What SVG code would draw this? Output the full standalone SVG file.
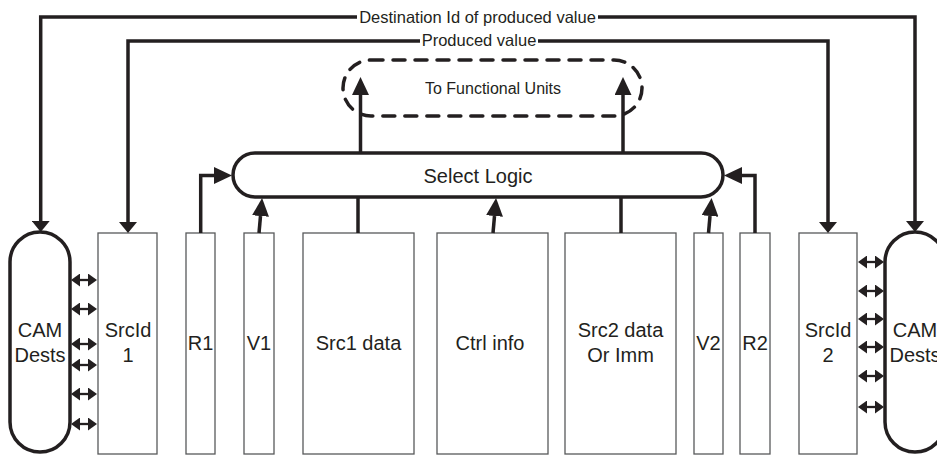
<svg xmlns="http://www.w3.org/2000/svg" width="937" height="455" viewBox="0 0 937 455">
<style>
text{font-family:"Liberation Sans",Arial,sans-serif;fill:#231f20;text-anchor:middle}
.big{font-size:20px}
.mid{font-size:16.5px}
.cell{fill:#fff;stroke:#58595b;stroke-width:1.3}
.cam{fill:#fff;stroke:#231f20;stroke-width:3.5}
.w{fill:none;stroke:#231f20;stroke-width:3.5}
.thin{fill:none;stroke:#231f20;stroke-width:2.3}
</style>
<defs>
<marker id="ah" viewBox="0 0 18 17" refX="0" refY="8.5" markerWidth="18" markerHeight="17" markerUnits="userSpaceOnUse" orient="auto"><path d="M0,0 L18,8.5 L0,17 z" fill="#231f20"/></marker>
<marker id="ahs" viewBox="0 0 11 18" refX="0" refY="9" markerWidth="11" markerHeight="18" markerUnits="userSpaceOnUse" orient="auto"><path d="M0,0 L11,9 L0,18 z" fill="#231f20"/></marker>
<marker id="dh" viewBox="0 0 9 13" refX="0" refY="6.5" markerWidth="9" markerHeight="13" markerUnits="userSpaceOnUse" orient="auto-start-reverse"><path d="M0,0 L9,6.5 L0,13 z" fill="#231f20"/></marker>
</defs>
<g id="fu"><rect x="343" y="60" width="299" height="56" rx="28" fill="none" stroke="#231f20" stroke-width="3.5" stroke-dasharray="12 10" stroke-linecap="round"/><text x="493" y="94" style="font-size:16px">To Functional Units</text></g>
<g id="select"><rect x="233" y="153" width="490" height="44" rx="22" class="cam"/><text class="big" x="478" y="183">Select Logic</text></g>
<g id="cam1"><rect x="10" y="232" width="60" height="220" rx="30" class="cam"/><text class="big" x="40" y="337">CAM</text><text class="big" x="40" y="362">Dests</text></g>
<g id="srcid1"><rect class="cell" x="98" y="233" width="59" height="221"/><text class="big" x="128" y="337">SrcId</text><text class="big" x="128" y="362">1</text></g>
<g id="r1"><rect class="cell" x="186" y="233" width="29" height="221"/><text class="big" x="200.5" y="350">R1</text></g>
<g id="v1"><rect class="cell" x="244" y="233" width="30" height="221"/><text class="big" x="259" y="350">V1</text></g>
<g id="src1"><rect class="cell" x="303" y="233" width="111" height="221"/><text class="big" x="358.5" y="350">Src1 data</text></g>
<g id="ctrl"><rect class="cell" x="437" y="233" width="111" height="221"/><text class="big" x="490" y="350">Ctrl info</text></g>
<g id="src2"><rect class="cell" x="565" y="233" width="111" height="221"/><text class="big" x="620.5" y="337">Src2 data</text><text class="big" x="620.5" y="362">Or Imm</text></g>
<g id="v2"><rect class="cell" x="694" y="233" width="29" height="221"/><text class="big" x="708.5" y="350">V2</text></g>
<g id="r2"><rect class="cell" x="740" y="233" width="30" height="221"/><text class="big" x="755" y="350">R2</text></g>
<g id="srcid2"><rect class="cell" x="799" y="233" width="58" height="221"/><text class="big" x="828" y="337">SrcId</text><text class="big" x="828" y="362">2</text></g>
<g id="cam2"><rect x="885" y="232" width="60" height="220" rx="30" class="cam"/><text class="big" x="915" y="337">CAM</text><text class="big" x="915" y="362">Dests</text></g>
<g id="connectors">
<path class="w" d="M357,17 H40.7 V221" marker-end="url(#ahs)"/>
<path class="w" d="M598,17 H915 V221" marker-end="url(#ahs)"/>
<text class="mid" x="477.5" y="23">Destination Id of produced value</text>
<path class="w" d="M420,41 H128 V222" marker-end="url(#ahs)"/>
<path class="w" d="M538,41 H828 V222" marker-end="url(#ahs)"/>
<text class="mid" x="479" y="46">Produced value</text>
<path class="w" d="M360.5,153 V95" marker-end="url(#ah)"/>
<path class="w" d="M623,153 V95" marker-end="url(#ah)"/>
<path class="w" d="M200.7,233 V175.5 H214" marker-end="url(#ah)"/>
<path class="w" d="M259,233 L260.5,216" marker-end="url(#ah)"/>
<path class="w" d="M358,197 V233"/>
<path class="w" d="M493,233 L494.5,216" marker-end="url(#ah)"/>
<path class="w" d="M621,197 V233"/>
<path class="w" d="M708.5,233 L710,216" marker-end="url(#ah)"/>
<path class="w" d="M755,233 V175.5 H742" marker-end="url(#ah)"/>
<g class="thin">
<path d="M80,280 H88" marker-start="url(#dh)" marker-end="url(#dh)"/>
<path d="M80,309 H88" marker-start="url(#dh)" marker-end="url(#dh)"/>
<path d="M80,344 H88" marker-start="url(#dh)" marker-end="url(#dh)"/>
<path d="M80,365 H88" marker-start="url(#dh)" marker-end="url(#dh)"/>
<path d="M80,394 H88" marker-start="url(#dh)" marker-end="url(#dh)"/>
<path d="M80,424 H88" marker-start="url(#dh)" marker-end="url(#dh)"/>
<path d="M867,262 H875" marker-start="url(#dh)" marker-end="url(#dh)"/>
<path d="M867,291 H875" marker-start="url(#dh)" marker-end="url(#dh)"/>
<path d="M867,319 H875" marker-start="url(#dh)" marker-end="url(#dh)"/>
<path d="M867,347 H875" marker-start="url(#dh)" marker-end="url(#dh)"/>
<path d="M867,376 H875" marker-start="url(#dh)" marker-end="url(#dh)"/>
<path d="M867,407 H875" marker-start="url(#dh)" marker-end="url(#dh)"/>
</g>
</g>
</svg>
